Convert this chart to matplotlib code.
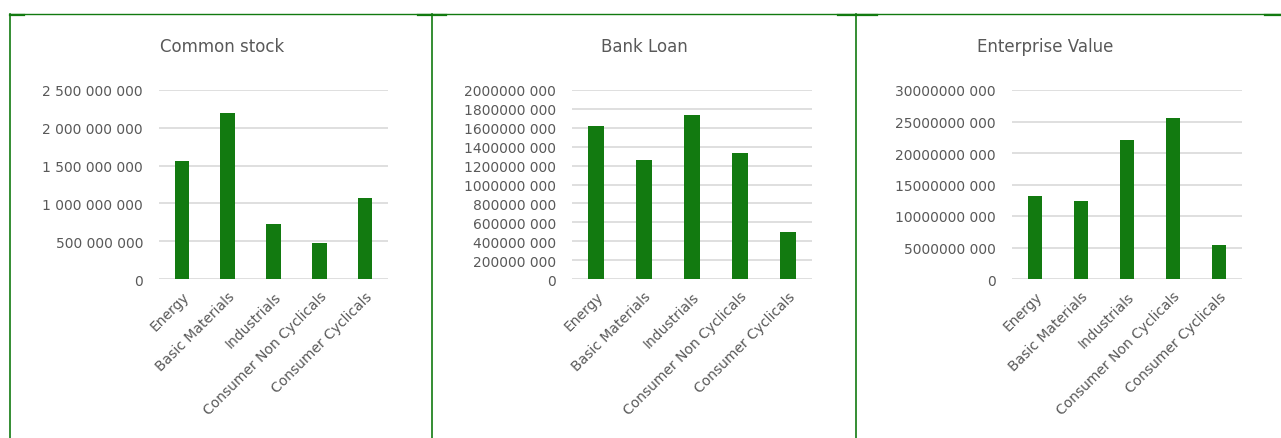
import matplotlib.pyplot as plt
from matplotlib.lines import Line2D
from matplotlib.ticker import FuncFormatter
import numpy as np

sectors = ['Energy', 'Basic Materials', 'Industrials', 'Consumer Non Cyclicals', 'Consumer Cyclicals']

common_stock = [1.566e9, 2.195e9, 0.721e9, 0.482e9, 1.066e9]
bank_loan = [1.614e9, 1.264e9, 1.731e9, 1.338e9, 0.499e9]
enterprise_value = [1.317e10, 1.237e10, 2.214e10, 2.549e10, 0.547e10]

titles = ['Common stock', 'Bank Loan', 'Enterprise Value']

green = '#127a10'
grey = '#595959'


def fmt_grouped(v, pos):
    return '{:,}'.format(int(round(v))).replace(',', ' ')


def fmt_last3(v, pos):
    v = int(round(v))
    if v == 0:
        return '0'
    return '%d %03d' % (v // 1000, v % 1000)


fig = plt.figure(figsize=(12.81, 4.39), dpi=100)

# axes rectangles, in pixels (left, right)
bottom = 1 - 280 / 439
height = (280 - 91) / 439
boxes = [(159, 388), (572, 812), (1012, 1242)]
series = [common_stock, bank_loan, enterprise_value]
ymax = [2.5e9, 2.0e9, 3.0e10]
ystep = [5e8, 2e8, 5e9]
formatters = [fmt_grouped, fmt_last3, fmt_last3]
title_x = [222, 644, 1045]

for i in range(3):
    l, r = boxes[i]
    ax = fig.add_axes([l / 1281, bottom, (r - l) / 1281, height])
    x = np.arange(len(sectors))
    ax.bar(x, series[i], width=0.32, color=green, zorder=3)
    ax.set_xlim(-0.5, len(sectors) - 0.5)
    ax.set_ylim(0, ymax[i])
    ax.set_yticks(np.arange(0, ymax[i] + ystep[i] / 2, ystep[i]))
    ax.yaxis.set_major_formatter(FuncFormatter(formatters[i]))
    ax.grid(axis='y', color='#d9d9d9', linewidth=1.2, zorder=0)
    for s in ax.spines.values():
        s.set_visible(False)
    ax.tick_params(axis='y', length=0, pad=11.5, labelsize=10, labelcolor=grey)
    ax.tick_params(axis='x', length=0, pad=7, labelsize=10, labelcolor=grey)
    ax.set_xticks(x)
    ax.set_xticklabels(sectors, rotation=45, ha='right', rotation_mode='anchor')
    fig.text(title_x[i] / 1281, 1 - 47 / 439, titles[i], ha='center', va='center',
             fontsize=12, color=grey)

# green frame lines around the panels
def fig_line(xs, ys, lw):
    fig.add_artist(Line2D([v / 1281 for v in xs], [1 - v / 439 for v in ys],
                          color=green, linewidth=lw, transform=fig.transFigure))

fig_line([10, 1281], [15, 15], 1.0)
for xv in [10, 432, 856]:
    fig_line([xv, xv], [15, 439], 1.2)
for a, b in [(10, 24), (418, 446), (838, 877), (1265, 1281)]:
    fig_line([a, b], [15.5, 15.5], 1.6)

fig.savefig('out.png', dpi=100)
